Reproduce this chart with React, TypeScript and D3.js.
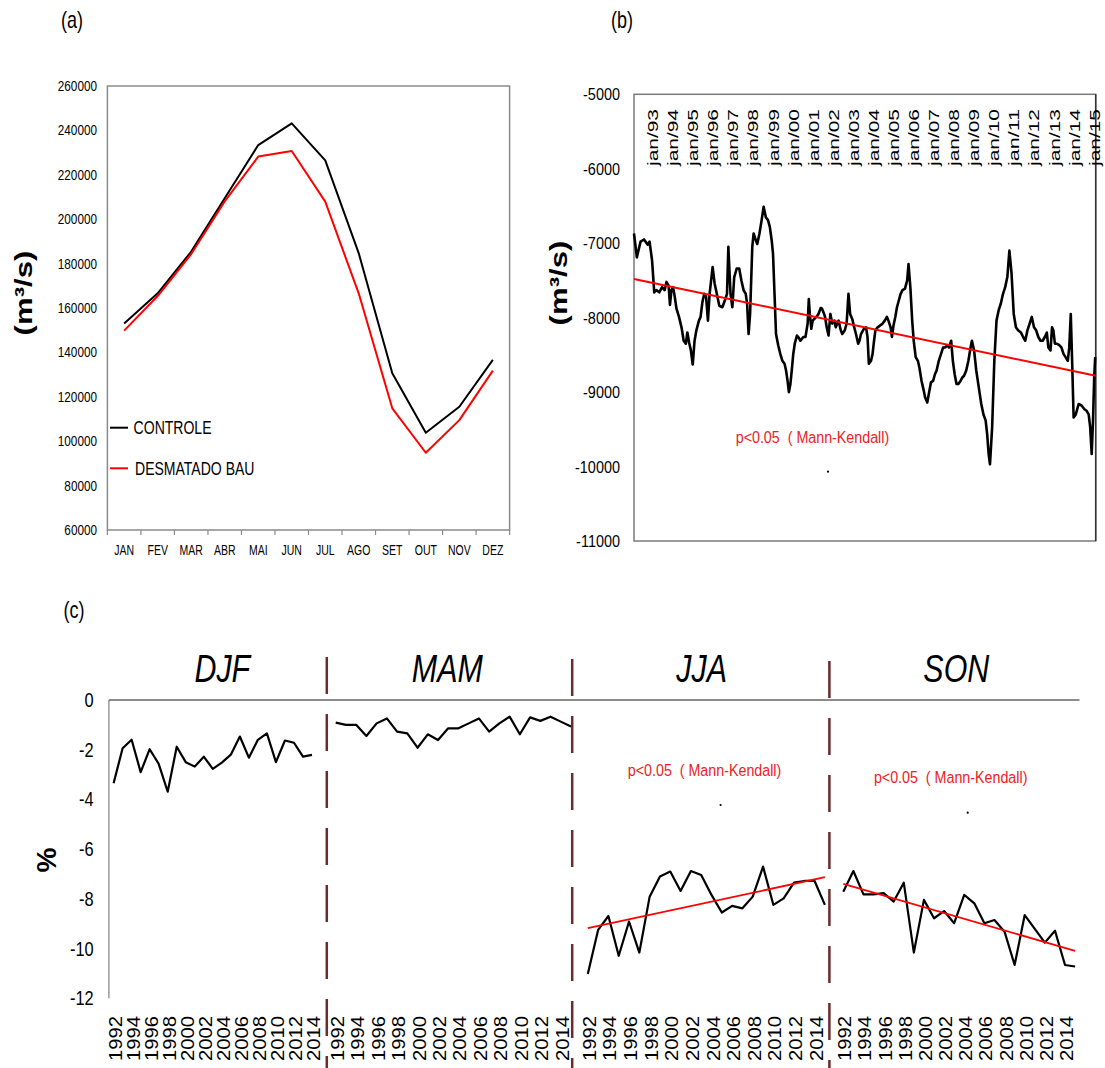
import React from 'react';
import * as d3 from 'd3';

// (a) monthly mean flow
const months = ['JAN', 'FEV', 'MAR', 'ABR', 'MAI', 'JUN', 'JUL', 'AGO', 'SET', 'OUT', 'NOV', 'DEZ'];
const controle = [153000, 166600, 185400, 209400, 233400, 243200, 226500, 184600, 130600, 103800, 115500, 136600];
const desmatado = [149800, 165400, 184300, 208000, 228200, 230700, 207900, 166500, 114800, 94800, 109500, 131800];
const ticksA = [260000, 240000, 220000, 200000, 180000, 160000, 140000, 120000, 100000, 80000, 60000];

// (b) flow difference time series, month index counted from jan/92
const bMonth = [0, 1.7, 3.9, 6, 8.2, 9.3, 10.8, 12.1, 13.4, 15.1, 16.8, 18.3, 19.4, 20.7, 21.5, 22.4, 23.3, 24.1, 25.4, 26.9,
  28.4, 29.7, 31, 31.9, 33, 34, 35.1, 36.2, 37.3, 38.8, 39.8, 40.9, 42, 43.1, 44.2, 45.2, 47, 48.2, 49.5, 51,
  52.8, 54.3, 55.6, 56.4, 57.7, 58.8, 59.9, 61.4, 62.9, 64.2, 65.5, 66.8, 67.6, 68.5, 69.4, 70.7, 71.5, 72.8, 73.7, 75,
  76.3, 77.5, 78.8, 80.1, 81.2, 82.3, 83.1, 84, 84.9, 86.2, 87.5, 88.7, 90, 90.9, 91.8, 92.6, 93.5, 94.3, 95.2, 96.1,
  97.4, 98.2, 99.5, 101.2, 102.5, 103.8, 104.5, 105.1, 106, 106.8, 107.7, 109, 110.3, 111.6, 112.4, 113.3, 114.2, 115.2, 116.3, 117.4,
  118.5, 119.8, 120.6, 122.3, 123.6, 124.5, 126, 127.1, 128.2, 129.2, 130.5, 131.4, 132.7, 134, 134.8, 135.7, 137.4, 138.7, 139.6, 140.4,
  141.7, 142.6, 143.5, 144.3, 145.6, 146.9, 148.6, 149.9, 151.2, 152.1, 153.4, 154.2, 155.1, 156.2, 157.2, 158.3, 159.4, 160.5, 162, 163.3,
  164.1, 165.2, 166.3, 167.2, 168.4, 169.7, 170.6, 171.9, 173.2, 174, 175.3, 176.2, 177.5, 178.8, 179.9, 180.9, 182.2, 183.5, 184.8, 186.1,
  187.4, 188.3, 189.6, 190.6, 191.7, 192.8, 193.9, 195.2, 196.4, 197.3, 198.6, 199.9, 201.2, 202, 203.3, 204.6, 206.4, 207.6, 208.9, 210.2,
  211.1, 212, 212.8, 214.1, 215.4, 216.7, 218, 219.3, 220.6, 221.9, 223.2, 224.4, 225.7, 227, 228.3, 229.6, 231.3, 232.6, 233.9, 235.2,
  236.5, 237.8, 239.1, 240.4, 241.7, 243, 244.3, 245.6, 246.8, 247.7, 249, 249.9, 250.7, 251.6, 252.9, 254.2, 255.5, 256.8, 258, 259.3,
  260.2, 261.1, 261.9, 262.8, 264.1, 265.8, 267.5, 269.3, 270.5, 271.8, 272.7, 273.6, 274.4, 275.1, 275.7];
const bFlow = [-6870, -7190, -6980, -6950, -7020, -6980, -7230, -7660, -7630, -7660, -7590, -7630, -7520, -7570, -7830, -7630, -7590, -7680, -7880, -7990,
  -8130, -8310, -8350, -8200, -8340, -8440, -8630, -8310, -8170, -8040, -7990, -7790, -7680, -7720, -8040, -7680, -7320, -7540, -7680, -7840,
  -7860, -7770, -7680, -7050, -7680, -7860, -7460, -7340, -7340, -7500, -7630, -7680, -7810, -8220, -7950, -7050, -6870, -6960, -7010, -6870,
  -6690, -6510, -6650, -6690, -6780, -6960, -7140, -7680, -8220, -8370, -8490, -8580, -8620, -8710, -8850, -9000, -8890, -8710, -8490, -8350,
  -8240, -8260, -8310, -8260, -8260, -8080, -7750, -7950, -8150, -8040, -8020, -7990, -7950, -7870, -7880, -7930, -7990, -8130, -8240, -7950,
  -8080, -8040, -8130, -8040, -8170, -8220, -8170, -8080, -7680, -7950, -8020, -8110, -8220, -8350, -8310, -8220, -8150, -8130, -8260, -8620,
  -8580, -8490, -8310, -8170, -8130, -8110, -8080, -8040, -7990, -8040, -8130, -8260, -8110, -7990, -7860, -7770, -7680, -7630, -7610, -7500,
  -7280, -7590, -8040, -8310, -8530, -8580, -8670, -8850, -8980, -9070, -9140, -9030, -8870, -8850, -8760, -8710, -8580, -8490, -8400, -8400,
  -8370, -8400, -8310, -8580, -8760, -8890, -8890, -8850, -8800, -8780, -8710, -8580, -8400, -8310, -8440, -8710, -8980, -9160, -9300, -9380,
  -9560, -9830, -9970, -9470, -8580, -8040, -7900, -7810, -7680, -7590, -7450, -7100, -7410, -7950, -8130, -8170, -8200, -8260, -8310, -8170,
  -8080, -7990, -8130, -8170, -8260, -8310, -8310, -8260, -8200, -8400, -8440, -8130, -8170, -8350, -8350, -8370, -8400, -8490, -8530, -8580,
  -8400, -7950, -8580, -9340, -9300, -9160, -9180, -9230, -9250, -9300, -9470, -9830, -9380, -8800, -8530];
const bTrend = [-7480, -8780];
const ticksB = [-5000, -6000, -7000, -8000, -9000, -10000, -11000];
const bLabels = ['jan/93', 'jan/94', 'jan/95', 'jan/96', 'jan/97', 'jan/98', 'jan/99', 'jan/00', 'jan/01', 'jan/02', 'jan/03', 'jan/04',
  'jan/05', 'jan/06', 'jan/07', 'jan/08', 'jan/09', 'jan/10', 'jan/11', 'jan/12', 'jan/13', 'jan/14', 'jan/15'];

// (c) seasonal change in %
const djf = [-3.35, -1.94, -1.6, -2.9, -1.98, -2.57, -3.69, -1.88, -2.5, -2.68, -2.28, -2.77, -2.52, -2.2, -1.47, -2.32, -1.6, -1.34, -2.5, -1.63, -1.72, -2.28, -2.21];
const mam = [-0.91, -1.0, -1.0, -1.45, -0.94, -0.74, -1.27, -1.34, -1.92, -1.38, -1.61, -1.14, -1.14, -0.94, -0.74, -1.27, -0.94, -0.67, -1.38, -0.7, -0.84, -0.67, -0.87, -1.07];
const jja = [-11.02, -9.25, -8.69, -10.29, -8.91, -10.16, -7.91, -7.1, -6.9, -7.68, -6.88, -7.04, -7.84, -8.55, -8.28, -8.38, -7.91, -6.7, -8.24, -7.98, -7.35, -7.28, -7.28, -8.24];
const son = [-7.71, -6.88, -7.82, -7.82, -7.77, -8.11, -7.35, -10.16, -8.04, -8.78, -8.49, -8.98, -7.84, -8.18, -8.98, -8.85, -9.32, -10.66, -8.65, -9.21, -9.76, -9.28, -10.66, -10.72];
const jjaTrend = [-9.18, -7.13];
const sonTrend = [-7.4, -10.09];
const ticksC = [0, -2, -4, -6, -8, -10, -12];
const yearLabels = ['1992', '1994', '1996', '1998', '2000', '2002', '2004', '2006', '2008', '2010', '2012', '2014'];
const pText = 'p<0.05  ( Mann-Kendall)';

const FONT = '"Liberation Sans", Arial, Helvetica, sans-serif';
const RED = '#ff0000';

const T = ({ x, y, sx = 1, size, anchor = 'start', fill = '#000', bold = false, italic = false, children }: any) => (
  <text transform={`translate(${x},${y}) scale(${sx},1)`} fontSize={size} textAnchor={anchor} fill={fill}
    fontFamily={FONT} fontWeight={bold ? 'bold' : 'normal'} fontStyle={italic ? 'italic' : 'normal'}
    style={{ whiteSpace: 'pre' }}>{children}</text>
);

const R = ({ x, y, size, len, anchor = 'start', bold = false, children }: any) => (
  <text transform={`translate(${x},${y}) rotate(-90)`} fontSize={size} textAnchor={anchor} fontFamily={FONT}
    fontWeight={bold ? 'bold' : 'normal'} textLength={len} lengthAdjust="spacingAndGlyphs">{children}</text>
);

const PanelA = () => {
  const x = d3.scaleBand().domain(months).range([107.4, 509.6]);
  const y = d3.scaleLinear().domain([60000, 260000]).range([530, 86]);
  const cx = (m: string) => (x(m) as number) + x.bandwidth() / 2;
  const line = d3.line<number>().x((_, i) => cx(months[i])).y(d => y(d));
  const bounds = d3.range(months.length + 1).map(i => 107.4 + i * x.bandwidth());
  return (
    <g>
      <T x={72} y={28} size={24} sx={0.75} anchor="middle">(a)</T>
      <rect x={107.4} y={86} width={402.2} height={444} fill="none" stroke="#8a8a8a" strokeWidth={1.5} />
      {bounds.map((b, i) => <line key={i} x1={b} x2={b} y1={530} y2={535} stroke="#8a8a8a" strokeWidth={1.2} />)}
      {ticksA.map(t => <T key={t} x={97} y={y(t) + 5} size={14} sx={0.84} anchor="end">{t}</T>)}
      {months.map(m => <T key={m} x={cx(m)} y={555} size={14} sx={0.75} anchor="middle">{m}</T>)}
      <path d={line(controle) as string} fill="none" stroke="#000" strokeWidth={2} strokeLinejoin="round" />
      <path d={line(desmatado) as string} fill="none" stroke={RED} strokeWidth={2} strokeLinejoin="round" />
      <line x1={110} x2={128} y1={427.7} y2={427.7} stroke="#000" strokeWidth={2} />
      <T x={133.6} y={434.2} size={18} sx={0.78}>CONTROLE</T>
      <line x1={110} x2={128} y1={468.3} y2={468.3} stroke={RED} strokeWidth={2} />
      <T x={135} y={474.8} size={18} sx={0.78}>DESMATADO BAU</T>
      <R x={32} y={293} size={24} len={85} anchor="middle" bold>(m³/s)</R>
    </g>
  );
};

const PanelB = () => {
  const x = d3.scaleLinear().domain([0, 276]).range([634, 1095.7]);
  const y = d3.scaleLinear().domain([-11000, -5000]).range([541, 94.3]);
  const line = d3.line<number>().x((_, i) => x(bMonth[i])).y(d => y(d));
  return (
    <g>
      <T x={622} y={28} size={24} sx={0.75} anchor="middle">(b)</T>
      <rect x={634} y={94.3} width={461.7} height={446.7} fill="none" stroke="#7a7a7a" strokeWidth={1.5} />
      <line x1={1095.7} x2={1095.7} y1={94.3} y2={541} stroke="#333" strokeWidth={1.5} />
      {ticksB.map(t => <T key={t} x={620} y={y(t) + 6} size={17} sx={0.85} anchor="end">{t}</T>)}
      {bLabels.map((l, i) => <R key={l} x={x((i + 1) * 12) + 4} y={166} size={15} len={57}>{l}</R>)}
      <path d={line(bFlow) as string} fill="none" stroke="#000" strokeWidth={2.6} strokeLinejoin="round" />
      <line x1={x(0)} x2={x(276)} y1={y(bTrend[0])} y2={y(bTrend[1])} stroke={RED} strokeWidth={2} />
      <T x={735.7} y={443} size={17} sx={0.84} fill="#ee2222">{pText}</T>
      <circle cx={828} cy={471.7} r={1.1} fill="#000" />
      <R x={567} y={283} size={24} len={85} anchor="middle" bold>(m³/s)</R>
    </g>
  );
};

const seasons = [
  { name: 'DJF', data: djf, x0: 113.6, x1: 312, title: 222.3, trend: null as number[] | null, text: null as number[] | null, dot: null as number[] | null },
  { name: 'MAM', data: mam, x0: 335.7, x1: 571, title: 447.3, trend: null, text: null, dot: null },
  { name: 'JJA', data: jja, x0: 587.8, x1: 824.9, title: 701.6, trend: jjaTrend, text: [627.8, 776], dot: [720.6, 805] },
  { name: 'SON', data: son, x0: 843.3, x1: 1075.1, title: 956.3, trend: sonTrend, text: [873.9, 782.7], dot: [967.7, 812.7] },
];
const dividers = [[326.8, 657], [572.2, 659], [829.4, 661]];

const PanelC = () => {
  const y = d3.scaleLinear().domain([-12, 0]).range([998.3, 700]);
  return (
    <g>
      <T x={74} y={618} size={24} sx={0.75} anchor="middle">(c)</T>
      <line x1={108.9} x2={108.9} y1={700} y2={998.3} stroke="#999" strokeWidth={1.5} />
      <line x1={108.9} x2={1079.5} y1={700} y2={700} stroke="#666" strokeWidth={1.5} />
      {ticksC.map(t => <T key={t} x={93.6} y={y(t) + 7} size={20} sx={0.82} anchor="end">{t}</T>)}
      <R x={55.6} y={860} size={28} anchor="middle" bold>%</R>
      {seasons.map(s => {
        const n = s.data.length;
        const x = d3.scaleLinear().domain([1992, 1992 + n - 1]).range([s.x0, s.x1]);
        const line = d3.line<number>().x((_, i) => x(1992 + i)).y(d => y(d));
        return (
          <g key={s.name}>
            <T x={s.title} y={681.7} size={38} sx={0.8} anchor="middle" italic>{s.name}</T>
            <path d={line(s.data) as string} fill="none" stroke="#000" strokeWidth={2.2} strokeLinejoin="round" />
            {s.trend && <line x1={x(1992)} x2={x(1992 + n - 1)} y1={y(s.trend[0])} y2={y(s.trend[1])} stroke={RED} strokeWidth={1.8} />}
            {s.text && <T x={s.text[0]} y={s.text[1]} size={17} sx={0.84} fill="#ee2222">{pText}</T>}
            {s.dot && <circle cx={s.dot[0]} cy={s.dot[1]} r={1.1} fill="#000" />}
            {yearLabels.map(l => <R key={l} x={x(+l) + 8} y={1061} size={18} len={45}>{l}</R>)}
          </g>
        );
      })}
      {dividers.map(([dx, top], i) => (
        <line key={i} x1={dx} x2={dx} y1={top} y2={1068} stroke="#6b2c2c" strokeWidth={2.5} strokeDasharray="37 20" />
      ))}
    </g>
  );
};

export default function App() {
  return (
    <svg width={1105} height={1068} style={{ position: 'absolute', left: 0, top: 0, background: '#fff' }}>
      <rect width={1105} height={1068} fill="#fff" />
      <PanelA />
      <PanelB />
      <PanelC />
    </svg>
  );
}
